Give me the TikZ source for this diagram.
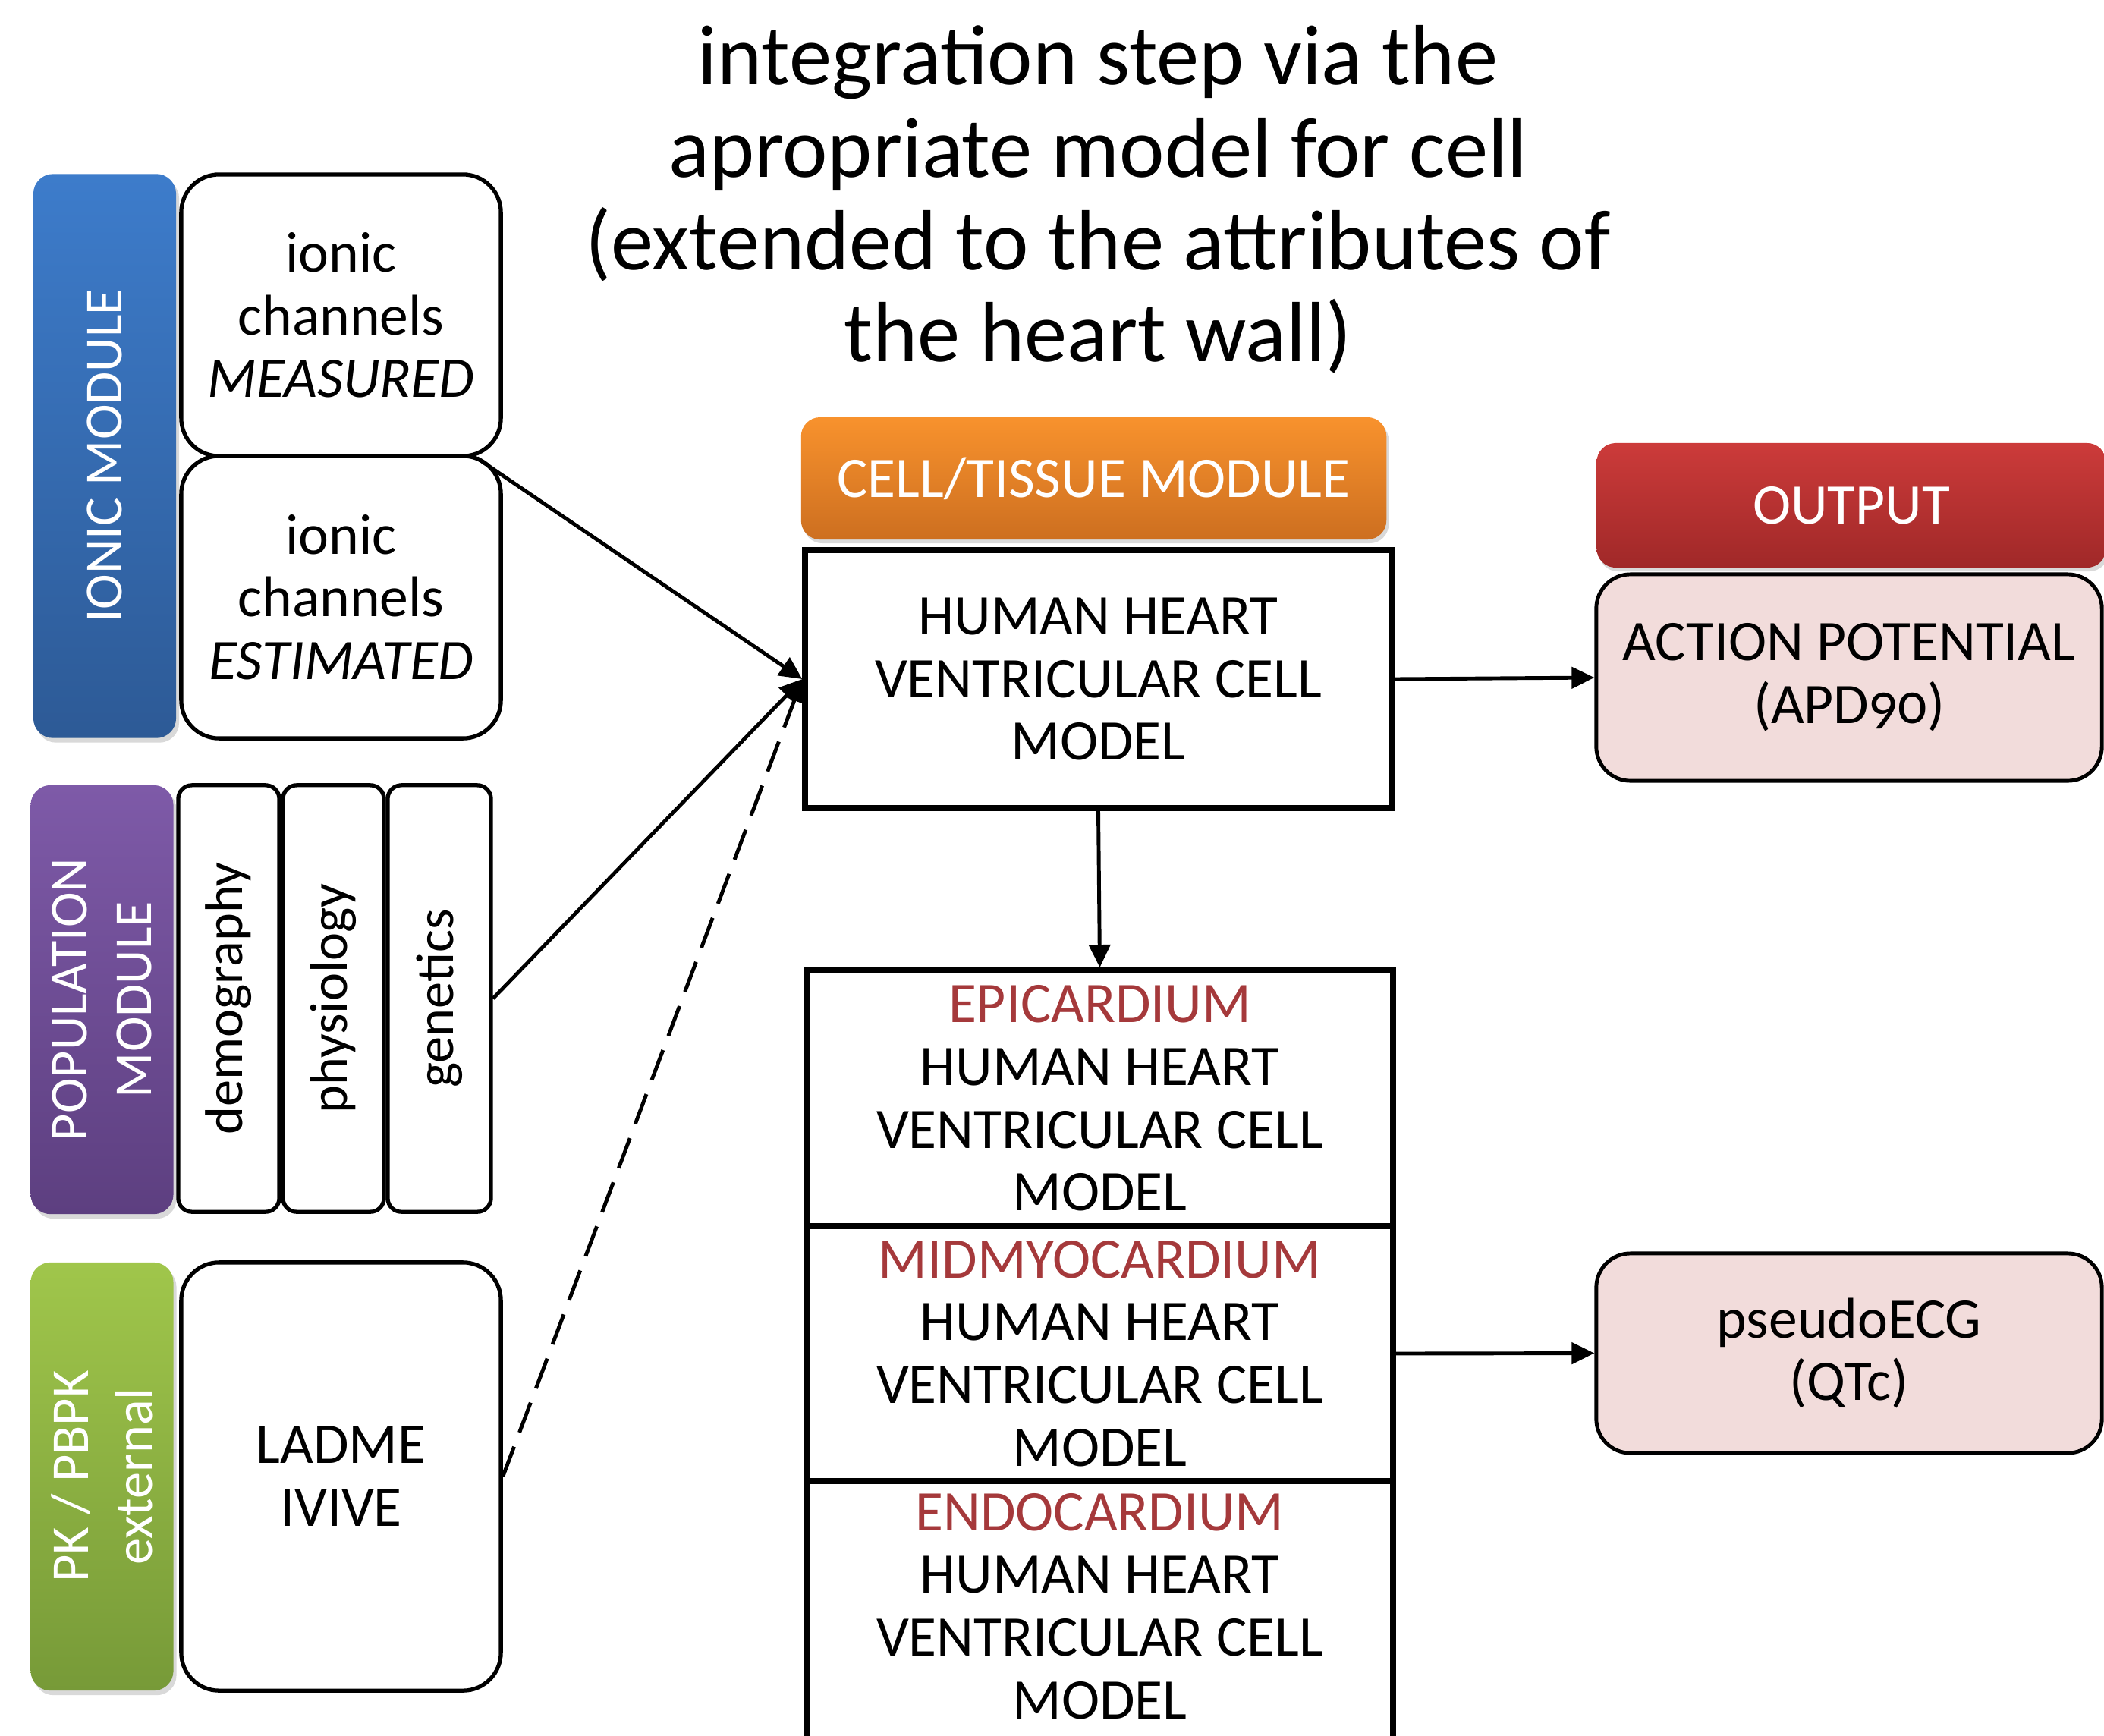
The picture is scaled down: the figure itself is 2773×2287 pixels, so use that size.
\documentclass[tikz,border=0pt]{standalone}
\usepackage{fontspec}
\setmainfont{Carlito}[Numbers=OldStyle]
\usepackage{xcolor}
\usepackage{tikz}
\usetikzlibrary{arrows.meta,shadows}

%% Module colours (top / bottom of the shading)
\definecolor{ionictop}{HTML}{3D7CCB}
\definecolor{ionicbot}{HTML}{2D5A96}
\definecolor{poptop}{HTML}{7E5AA8}
\definecolor{popbot}{HTML}{5D3F80}
\definecolor{pktop}{HTML}{A0C64B}
\definecolor{pkbot}{HTML}{779A38}
\definecolor{celltop}{HTML}{F8922D}
\definecolor{cellbot}{HTML}{CD6F20}
\definecolor{outtop}{HTML}{CC3B3A}
\definecolor{outbot}{HTML}{A02828}
\definecolor{outpink}{HTML}{F2DCDB}
\definecolor{layerred}{HTML}{A5393B}

\begin{document}
\begin{tikzpicture}[
  x=0.01cm, y=-0.01cm,
  every node/.style={font=\fontsize{21.5}{23.5}\selectfont, align=center, inner sep=0pt},
  modbar/.style={rounded corners=0.26cm, minimum width=1.88cm,
    drop shadow={opacity=0.3, shadow xshift=0.04cm, shadow yshift=-0.06cm}},
  modlabel/.style={text=white, rotate=90, font=\fontsize{20}{24}\selectfont},
  inbox/.style={draw, line width=1.5pt, rounded corners=0.5cm, fill=white,
    minimum width=4.21cm},
  factor/.style={draw, line width=1.5pt, rounded corners=0.18cm, rotate=90,
    minimum width=5.62cm, minimum height=1.33cm, font=\fontsize{20}{24}\selectfont},
  header/.style={rounded corners=0.25cm, text=white,
    drop shadow={opacity=0.3, shadow xshift=0.03cm, shadow yshift=-0.05cm}},
  cellbox/.style={draw, line width=2.2pt, fill=white, minimum width=7.72cm},
  outbox/.style={draw, line width=1.4pt, rounded corners=0.45cm, fill=outpink,
    minimum width=6.66cm},
  link/.style={line width=1.4pt, -{Triangle[length=0.3cm, width=0.28cm]}},
]
\useasboundingbox (0,0) rectangle (2773,2287);
\clip (0,0) rectangle (2773,2287);

%% Title
\node[font=\fontsize{32}{34.6}\selectfont] (title) at (1447,263)
  {integration step via the\\apropriate model for cell\\(extended to the attributes of\\the heart wall)};

%% Ionic module
\node[modbar, top color=ionictop, bottom color=ionicbot, minimum height=7.43cm]
  (ionic) at (138,601) {};
\node[modlabel] (ioniclbl) at (ionic) {IONIC MODULE};
\node[inbox, minimum height=3.71cm] (measured) at (449.5,415.5)
  {ionic\\channels\\\textit{MEASURED}};
\node[inbox, minimum height=3.72cm] (estimated) at (449.5,787)
  {ionic\\channels\\\textit{ESTIMATED}};

%% Population module
\node[modbar, top color=poptop, bottom color=popbot, minimum height=5.65cm]
  (population) at (134.5,1317.5) {};
\node[modlabel] (poplbl) at (population) {POPULATION\\MODULE};
\node[factor] (demography) at (301.5,1316) {demography};
\node[factor] (physiology) at (439.5,1316) {physiology};
\node[factor, minimum height=1.36cm] (genetics) at (579,1316) {genetics};

%% PK / PBPK module
\node[modbar, top color=pktop, bottom color=pkbot, minimum height=5.64cm]
  (pk) at (134.5,1946) {};
\node[modlabel] (pklbl) at (pk) {PK / PBPK\\external};
\node[inbox, minimum height=5.64cm] (ladme) at (449.5,1946) {LADME\\IVIVE};

%% Cell/tissue module
\node[header, top color=celltop, bottom color=cellbot,
      minimum width=7.71cm, minimum height=1.61cm]
  (cellhead) at (1441.5,630.5) {CELL/TISSUE MODULE};
\node[cellbox, minimum height=3.40cm] (cell) at (1447.5,895)
  {HUMAN HEART\\VENTRICULAR CELL\\MODEL};

%% Heart wall layers
\node[cellbox, minimum width=7.73cm, minimum height=3.37cm] (epi) at (1449.5,1447.5)
  {\textcolor{layerred}{EPICARDIUM}\\HUMAN HEART\\VENTRICULAR CELL\\MODEL};
\node[cellbox, minimum width=7.73cm, minimum height=3.36cm] (mid) at (1449.5,1784)
  {\textcolor{layerred}{MIDMYOCARDIUM}\\HUMAN HEART\\VENTRICULAR CELL\\MODEL};
\node[cellbox, minimum width=7.73cm, minimum height=3.48cm] (endo) at (1449.5,2126) {};
\node (endotext) at (1449.5,2117)
  {\textcolor{layerred}{ENDOCARDIUM}\\HUMAN HEART\\VENTRICULAR CELL\\MODEL};

%% Output
\node[header, top color=outtop, bottom color=outbot,
      minimum width=6.71cm, minimum height=1.64cm]
  (outhead) at (2440,666) {OUTPUT};
\node[outbox, minimum height=2.72cm] (ap) at (2437,893)
  {ACTION POTENTIAL\\(APD90)};
\node[outbox, minimum height=2.63cm] (ecg) at (2437,1783.5)
  {pseudoECG\\(QTc)};

%% Connectors
\coordinate (split) at ([xshift=-0.34cm]measured.south east);
\draw[link] (split) -- (cell.west);
\draw[link] (genetics.south) -- (cell.west);
\draw[link, dash pattern=on 0.42cm off 0.2cm] (ladme.east) -- (cell.west);
\draw[link] (cell.east) -- (ap.west);
\draw[link] (cell.south) -- (epi.north);
\draw[link] (mid.east) -- (ecg.west);

\end{tikzpicture}
\end{document}
